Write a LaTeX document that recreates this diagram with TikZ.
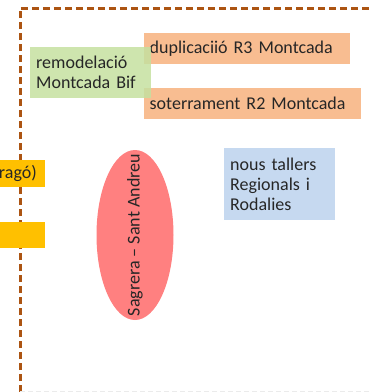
\documentclass[tikz,border=0pt]{standalone}
\usepackage{fontspec}
\setmainfont{Carlito}
\usetikzlibrary{positioning,shapes.geometric}
\definecolor{frame}{RGB}{172,84,18}
\definecolor{obra}{RGB}{248,189,145}
\definecolor{verd}{RGB}{197,224,160}
\definecolor{groc}{RGB}{255,192,0}
\definecolor{verm}{RGB}{255,128,128}
\definecolor{blau}{RGB}{198,217,240}
\definecolor{txt}{RGB}{38,38,38}

\begin{document}
\begin{tikzpicture}[
    x=1pt, y=-1pt,
    every node/.style={font=\fontsize{18}{20}\selectfont, text=txt},
    box/.style={
        rectangle, anchor=north west, inner sep=0pt, align=left
    },
    obrabox/.style={box, fill=obra},
    frameline/.style={draw=frame, line width=3pt, dash pattern=on 7pt off 4pt}
]
\useasboundingbox (0,0) rectangle (372,392);
\clip (0,0) rectangle (372,392);

% Frame
\draw[frameline] (20,392) -- (20,8) -- (372,8);
\draw[black!8, line width=1pt, dash pattern=on 5pt off 3pt] (20,391) -- (372,391);

% Obres a Montcada
\node[obrabox, minimum width=206pt, minimum height=31pt, text width=195pt] (dup) at (144,33) {duplicaciió R3 Montcada};
\node[obrabox, minimum width=217pt, minimum height=31pt, text width=206pt] (sot) at (144,88) {soterrament R2 Montcada};
\node[box, fill=verd, fill opacity=0.85, text opacity=1, minimum width=121pt, minimum height=51pt, text width=109pt] (bif) at (30,47) {remodelació\\Montcada Bif};

% Left side (cut)
\node[box, fill=groc, anchor=north east, minimum width=60pt, minimum height=27pt, align=right, text width=44pt] (arago) at (45,160) {ragó)};
\node[box, fill=groc, anchor=north east, minimum width=60pt, minimum height=26pt] (groc2) at (45,222) {};

% Sagrera
\node[ellipse, fill=verm, inner sep=0pt, minimum width=77pt, minimum height=170pt] (sag) at (135,235) {};
\node[rotate=90] (sagtxt) at (sag.center) {Sagrera – Sant Andreu};

% Tallers
\node[box, fill=blau, minimum width=111pt, minimum height=72pt, text width=99pt] (tall) at (224,148) {nous tallers\\Regionals i\\Rodalies};

\end{tikzpicture}
\end{document}
